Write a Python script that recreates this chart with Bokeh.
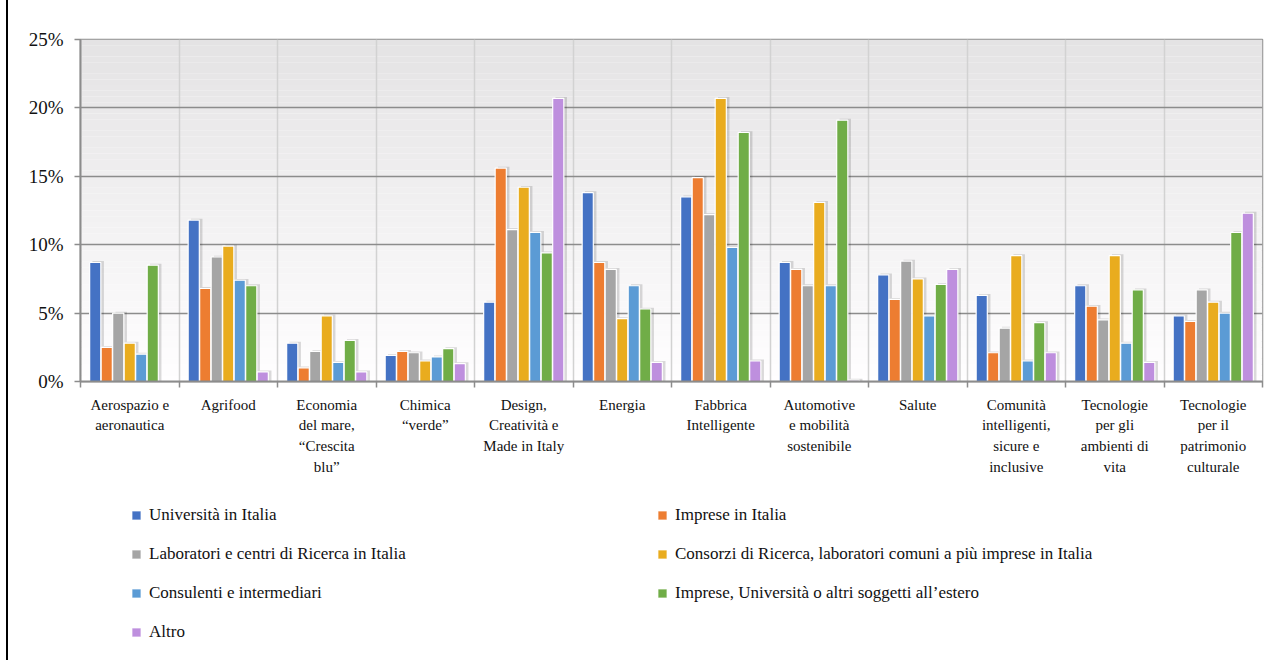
from bokeh.plotting import figure
from bokeh.layouts import column
from bokeh.models import (ColumnDataSource, Range1d, FixedTicker, PrintfTickFormatter,
                          Legend, LegendItem)
from bokeh.embed import file_html
from bokeh.resources import INLINE

# Settori tecnologici (etichette su più righe)
categorie = [
    "Aerospazio e\naeronautica",
    "Agrifood",
    "Economia\ndel mare,\n“Crescita\nblu”",
    "Chimica\n“verde”",
    "Design,\nCreatività e\nMade in Italy",
    "Energia",
    "Fabbrica\nIntelligente",
    "Automotive\ne mobilità\nsostenibile",
    "Salute",
    "Comunità\nintelligenti,\nsicure e\ninclusive",
    "Tecnologie\nper gli\nambienti di\nvita",
    "Tecnologie\nper il\npatrimonio\nculturale",
]

serie = [
    "Università in Italia",
    "Imprese in Italia",
    "Laboratori e centri di Ricerca in Italia",
    "Consorzi di Ricerca, laboratori comuni a più imprese in Italia",
    "Consulenti e intermediari",
    "Imprese, Università o altri soggetti all’estero",
    "Altro",
]

# Quote percentuali per settore
universita = [8.7, 11.8, 2.8, 1.9, 5.8, 13.8, 13.5, 8.7, 7.8, 6.3, 7.0, 4.8]
imprese = [2.5, 6.8, 1.0, 2.2, 15.6, 8.7, 14.9, 8.2, 6.0, 2.1, 5.5, 4.4]
laboratori = [5.0, 9.1, 2.2, 2.1, 11.1, 8.2, 12.2, 7.0, 8.8, 3.9, 4.5, 6.7]
consorzi = [2.8, 9.9, 4.8, 1.5, 14.2, 4.6, 20.7, 13.1, 7.5, 9.2, 9.2, 5.8]
consulenti = [2.0, 7.4, 1.4, 1.8, 10.9, 7.0, 9.8, 7.0, 4.8, 1.5, 2.8, 5.0]
estero = [8.5, 7.0, 3.0, 2.4, 9.4, 5.3, 18.2, 19.1, 7.1, 4.3, 6.7, 10.9]
altro = [0.0, 0.7, 0.7, 1.3, 20.7, 1.4, 1.5, 0.1, 8.2, 2.1, 1.4, 12.3]

valori = [universita, imprese, laboratori, consorzi, consulenti, estero, altro]
colori = ["#4472C4", "#ED7D31", "#A5A5A5", "#E9AC1E", "#5B9BD5", "#70AD47", "#BE8FDE"]

y_ticks = [0, 5, 10, 15, 20, 25]

FONT = "Liberation Serif"
n_cat = len(categorie)
n_ser = len(serie)
bar_w = 0.1168

p = figure(width=1279, height=480, output_backend="svg", toolbar_location=None,
           x_range=Range1d(0, n_cat), y_range=Range1d(0, 25),
           min_border_left=72, min_border_right=25, min_border_top=39,
           min_border_bottom=99)
p.background_fill_color = "white"
p.border_fill_color = "white"
p.outline_line_color = "#8f8f8f"
p.outline_line_width = 1.5

# sfondo sfumato dell'area del grafico
n_band = 60
tops = [25 * (k + 1) / n_band for k in range(n_band)]
bots = [25 * k / n_band for k in range(n_band)]
band_cols = []
for k in range(n_band):
    t = (k + 0.5) / n_band
    g = int(round(255 - 27 * t))
    band_cols.append("#%02x%02x%02x" % (g, g - 1, g))
p.quad(left=0, right=n_cat, bottom=bots, top=tops, fill_color=band_cols,
       line_color=None, level="image")

# griglie
p.ygrid.ticker = FixedTicker(ticks=y_ticks)
p.ygrid.grid_line_color = "#8c8c8c"
p.ygrid.grid_line_width = 1.5
p.xgrid.ticker = FixedTicker(ticks=list(range(n_cat + 1)))
p.xgrid.grid_line_color = "#d2d2d2"
p.xgrid.grid_line_width = 1.5

# barre raggruppate con ombra sul lato destro
for j in range(n_ser):
    xs = [i + 0.5 + (j - (n_ser - 1) / 2) * bar_w for i in range(n_cat)]
    src = ColumnDataSource(dict(x=xs, v=valori[j]))
    sh = ColumnDataSource(dict(x=[x + 0.03 for x in xs],
                               v=[v + 0.1 if v > 0 else 0 for v in valori[j]]))
    p.vbar(x="x", top="v", bottom=0, width=bar_w, source=sh,
           fill_color="#000000", fill_alpha=0.14, line_color=None)
    p.vbar(x="x", top="v", bottom=0, width=bar_w * 0.97, source=src,
           fill_color=colori[j], line_color="white", line_width=1.2)

# asse x: etichette al centro, tacche ai confini dei settori
xa = p.xaxis[0]
xa.ticker = FixedTicker(ticks=[i + 0.5 for i in range(n_cat)],
                        minor_ticks=list(range(n_cat + 1)))
xa.major_label_overrides = {i + 0.5: categorie[i] for i in range(n_cat)}
xa.major_tick_out = 0
xa.major_tick_in = 0
xa.minor_tick_out = 6
xa.minor_tick_in = 0
xa.minor_tick_line_color = "#8c8c8c"
xa.minor_tick_line_width = 1.5
xa.axis_line_color = "#8c8c8c"
xa.axis_line_width = 2
xa.major_label_text_font = FONT
xa.major_label_text_font_size = "15px"
xa.major_label_text_color = "#111111"
xa.major_label_text_line_height = 1.3
xa.major_label_standoff = 9

ya = p.yaxis[0]
ya.ticker = FixedTicker(ticks=y_ticks)
ya.formatter = PrintfTickFormatter(format="%d%%")
ya.major_tick_out = 6
ya.major_tick_in = 0
ya.minor_tick_out = 0
ya.minor_tick_in = 0
ya.major_tick_line_color = "#8c8c8c"
ya.major_tick_line_width = 1.5
ya.axis_line_color = "#8c8c8c"
ya.axis_line_width = 2
ya.major_label_text_font = FONT
ya.major_label_text_font_size = "19px"
ya.major_label_text_color = "#111111"
ya.major_label_standoff = 11

# legenda su due colonne in un pannello sotto il grafico
pl = figure(width=1279, height=180, output_backend="svg", toolbar_location=None,
            x_range=Range1d(0, 1), y_range=Range1d(0, 1),
            x_axis_location=None, y_axis_location=None,
            min_border_left=0, min_border_right=0, min_border_top=0,
            min_border_bottom=0)
pl.grid.visible = False
pl.outline_line_color = None
pl.background_fill_color = "white"
pl.border_fill_color = "white"

items = []
for j in range(n_ser):
    # campione fuori dall'area visibile: serve solo al simbolo in legenda
    swatch = ColumnDataSource(dict(x=[5.0], y=[5.0]))
    r = pl.scatter(x="x", y="y", marker="square", size=9, source=swatch,
                   fill_color=colori[j], line_color="white", line_width=0.5)
    items.append(LegendItem(label=serie[j], renderers=[r]))

legend = Legend(items=items, ncols=2, orientation="horizontal", location=(45, 17),
                label_text_font=FONT, label_text_font_size="17px",
                label_text_color="#111111",
                glyph_width=22, glyph_height=22, label_standoff=2,
                label_width=485, label_height=20, spacing=17,
                padding=0, margin=0, border_line_color=None,
                background_fill_alpha=0)
pl.add_layout(legend, "center")

layout = column(p, pl, spacing=0,
                styles={"border-left": "2px solid #000000", "margin-left": "6px"})

open("out.html", "w").write(file_html(layout, INLINE))
